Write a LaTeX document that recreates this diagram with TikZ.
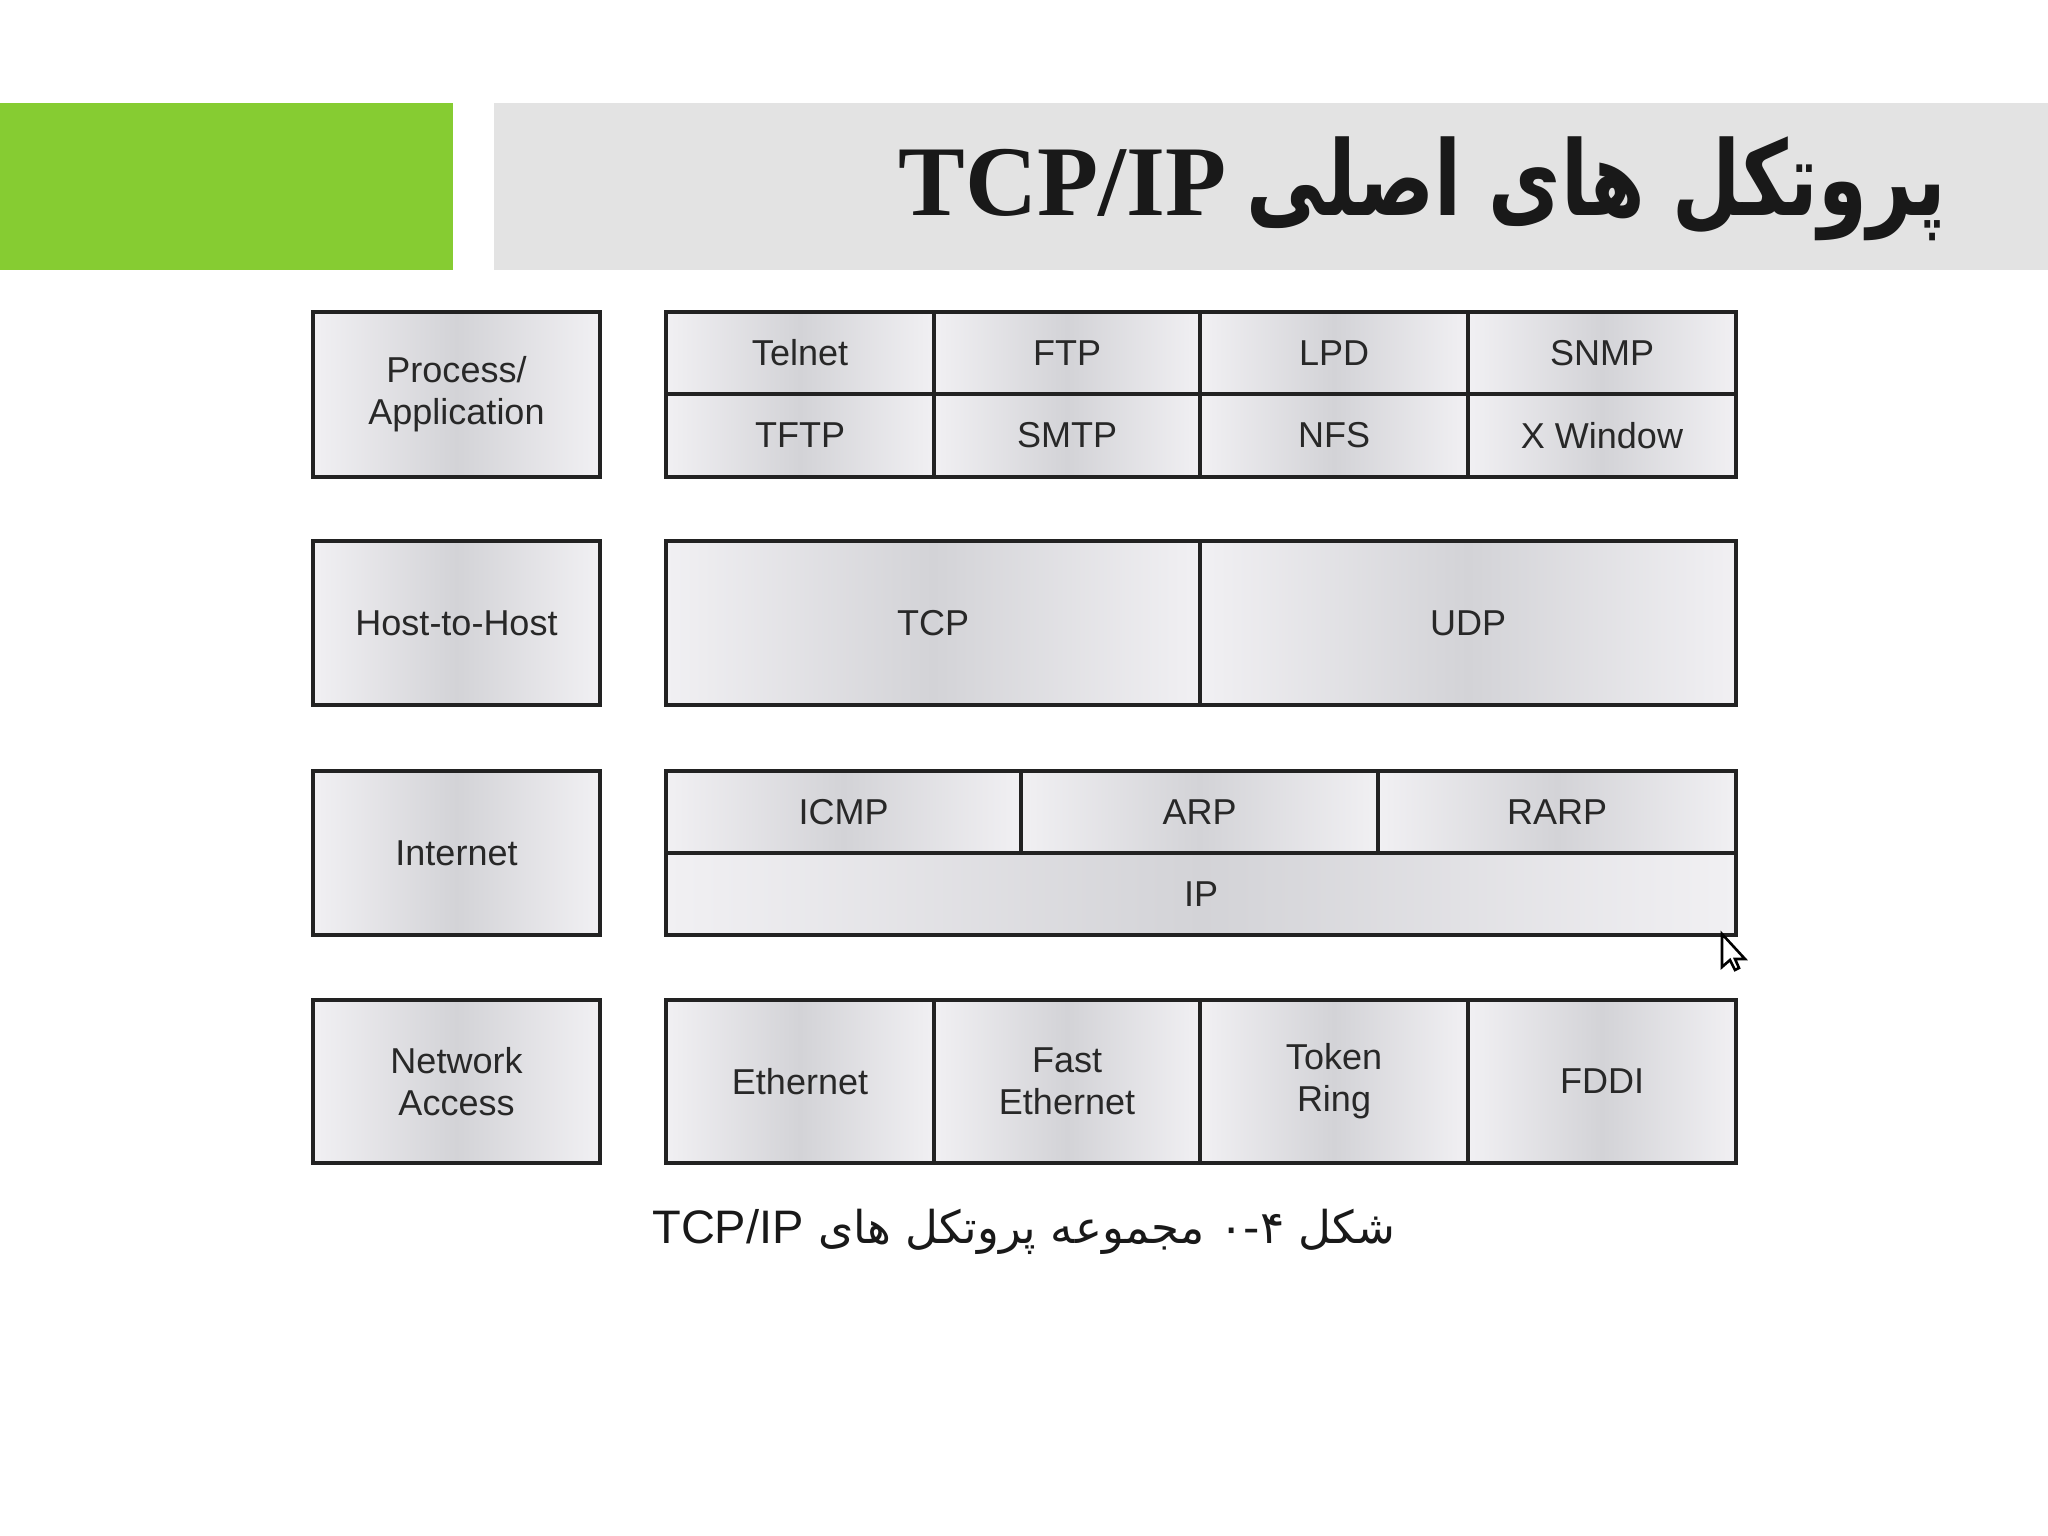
\documentclass[tikz,border=0pt]{standalone}
\usepackage{fontspec}
\usepackage{graphicx}
\setmainfont{Liberation Sans}
\newfontfamily\arabicfont[Script=Arabic]{DejaVu Sans}
\newfontfamily\titlelatin{Liberation Serif}
\TeXXeTstate=1
\definecolor{hdrgreen}{RGB}{134,204,50}
\definecolor{hdrgray}{RGB}{227,227,227}
\definecolor{cellE}{RGB}{241,240,243}
\definecolor{cellM}{RGB}{211,211,215}
\definecolor{edge}{RGB}{34,34,34}
\definecolor{lbl}{RGB}{40,40,40}
\tikzset{
  cell/.style={draw=edge, line width=2pt, left color=cellE, right color=cellE, middle color=cellM,
    inner sep=0pt, font=\fontsize{18}{21}\selectfont, text=lbl, align=center},
}
\begin{document}
\begin{tikzpicture}[x=0.5pt,y=-0.5pt]
\useasboundingbox (0,0) rectangle (2048,1535);
\fill[white] (0,0) rectangle (2048,1535);
% header
\fill[hdrgreen] (0,103) rectangle (453,270);
\fill[hdrgray] (494,103) rectangle (2048,270);
\node[anchor=base east, inner sep=0pt, text=black!90] (title) at (1946,216)
  {{\titlelatin\bfseries\fontsize{50}{56}\selectfont TCP/IP}\hspace{10pt}\scalebox{0.82}[1.08]{\arabicfont\bfseries\fontsize{48}{52}\selectfont\beginR پروتکل های اصلی\endR}};
% left layer boxes
\node[cell, minimum width=143.5pt, minimum height=82.5pt] (app) at (456.5,394.5) {Process/\\Application};
\node[cell, minimum width=143.5pt, minimum height=82pt] (h2h) at (456.5,623) {Host-to-Host};
\node[cell, minimum width=143.5pt, minimum height=82pt] (inet) at (456.5,853) {Internet};
\node[cell, minimum width=143.5pt, minimum height=81.5pt] (nacc) at (456.5,1081.5) {Network\\Access};
% application row
\node[cell, minimum width=134pt, minimum height=41pt] (telnet) at (800,353) {Telnet};
\node[cell, minimum width=133pt, minimum height=41pt] (ftp) at (1067,353) {FTP};
\node[cell, minimum width=134pt, minimum height=41pt] (lpd) at (1334,353) {LPD};
\node[cell, minimum width=134pt, minimum height=41pt] (snmp) at (1602,353) {SNMP};
\node[cell, minimum width=134pt, minimum height=41.5pt] (tftp) at (800,435.5) {TFTP};
\node[cell, minimum width=133pt, minimum height=41.5pt] (smtp) at (1067,435.5) {SMTP};
\node[cell, minimum width=134pt, minimum height=41.5pt] (nfs) at (1334,435.5) {NFS};
\node[cell, minimum width=134pt, minimum height=41.5pt] (xwin) at (1602,435.5) {X Window};
% host-to-host row
\node[cell, minimum width=267pt, minimum height=82pt] (tcp) at (933,623) {TCP};
\node[cell, minimum width=268pt, minimum height=82pt] (udp) at (1468,623) {UDP};
% internet row
\node[cell, minimum width=177.5pt, minimum height=41pt] (icmp) at (843.5,812) {ICMP};
\node[cell, minimum width=178.5pt, minimum height=41pt] (arp) at (1199.5,812) {ARP};
\node[cell, minimum width=179pt, minimum height=41pt] (rarp) at (1557,812) {RARP};
\node[cell, minimum width=535pt, minimum height=41pt] (ip) at (1201,894) {IP};
% network access row
\node[cell, minimum width=134pt, minimum height=81.5pt] (eth) at (800,1081.5) {Ethernet};
\node[cell, minimum width=133pt, minimum height=81.5pt] (feth) at (1067,1081.5) {Fast\\Ethernet};
\node[cell, minimum width=134pt, minimum height=81.5pt] (tring) at (1334,1081.5) {Token\\Ring};
\node[cell, minimum width=134pt, minimum height=81.5pt] (fddi) at (1602,1081.5) {FDDI};
% caption
\node[anchor=base, inner sep=0pt, text=black!90] (caption) at (1024,1243)
  {\arabicfont\fontsize{22.6}{26}\selectfont\beginR شکل \beginL ۰-۴\endL{} مجموعه پروتکل های \beginL{\rmfamily\fontsize{23.5}{26}\selectfont TCP/IP}\endL\endR};
% mouse cursor
\filldraw[fill=white, draw=black, line width=1.3pt, line join=miter]
  (1722,934) -- ++(0,33) -- ++(8,-7) -- ++(5,10) -- ++(4,-2) -- ++(-4,-9) -- ++(10,0) -- cycle;
\end{tikzpicture}
\end{document}
